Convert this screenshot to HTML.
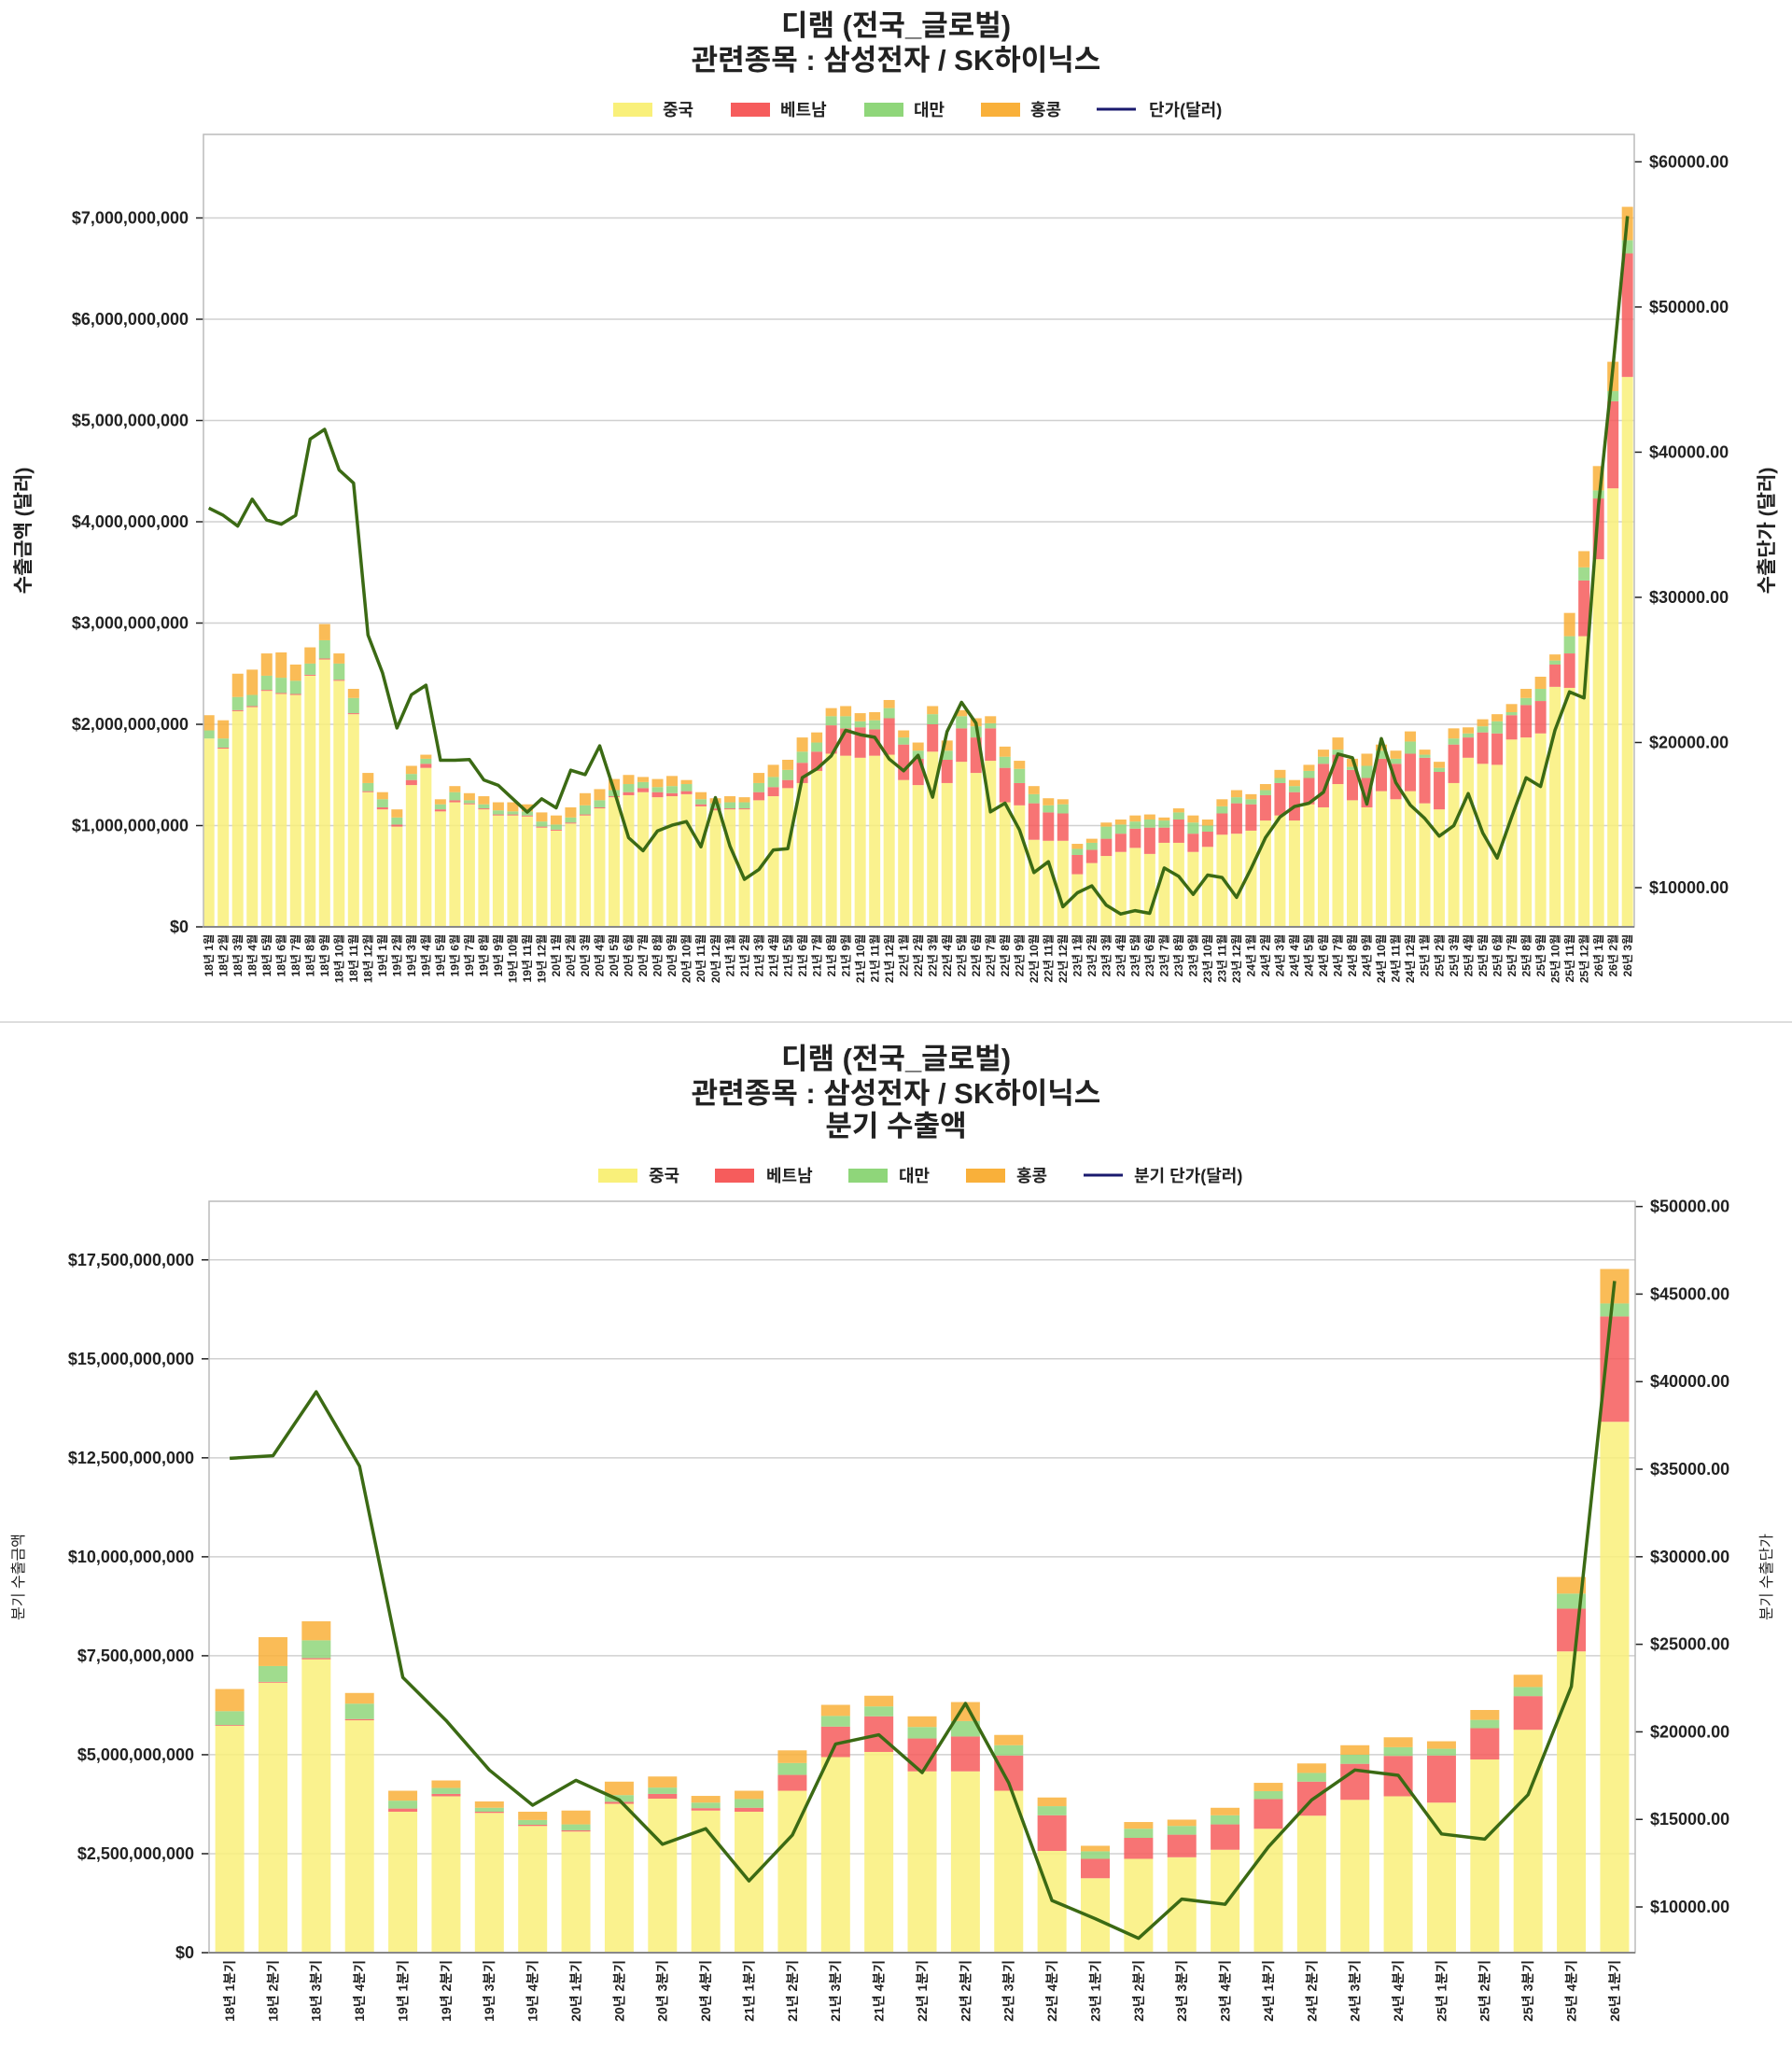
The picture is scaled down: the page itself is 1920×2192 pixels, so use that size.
<!DOCTYPE html>
<html><head><meta charset="utf-8">
<style>
html,body{margin:0;padding:0;background:#fff;}
svg{display:block;font-family:"Liberation Sans","Noto Sans CJK KR",sans-serif;}
</style></head>
<body>
<svg id="root" width="1920" height="2192" viewBox="0 0 1920 2192" xmlns="http://www.w3.org/2000/svg">
<g>
<text x="960" y="38" text-anchor="middle" font-size="31" font-weight="bold" fill="#222">디램 (전국_글로벌)</text>
<text x="960" y="75" text-anchor="middle" font-size="31" font-weight="bold" fill="#222">관련종목 : 삼성전자 / SK하이닉스</text>
</g>
<g font-size="18" font-weight="bold" fill="#222">
<g><rect x="657" y="110" width="42" height="15" fill="#f9f07a"/><text x="710" y="124">중국</text></g>
<g><rect x="783" y="110" width="42" height="15" fill="#f65c5c"/><text x="836" y="124">베트남</text></g>
<g><rect x="926" y="110" width="42" height="15" fill="#8fd67a"/><text x="979" y="124">대만</text></g>
<g><rect x="1051" y="110" width="42" height="15" fill="#f9b03a"/><text x="1104" y="124">홍콩</text></g>
<g><line x1="1175" y1="117" x2="1217" y2="117" stroke="#1a1a6e" stroke-width="3"/><text x="1231" y="124">단가(달러)</text></g>
</g>
<line x1="0" y1="1095" x2="1920" y2="1095" stroke="#ddd" stroke-width="2"/>
<g>
<text x="960" y="1145" text-anchor="middle" font-size="31" font-weight="bold" fill="#222">디램 (전국_글로벌)</text>
<text x="960" y="1182" text-anchor="middle" font-size="31" font-weight="bold" fill="#222">관련종목 : 삼성전자 / SK하이닉스</text>
<text x="960" y="1217" text-anchor="middle" font-size="31" font-weight="bold" fill="#222">분기 수출액</text>
</g>
<g font-size="18" font-weight="bold" fill="#222">
<g><rect x="641" y="1252" width="42" height="15" fill="#f9f07a"/><text x="695" y="1266">중국</text></g>
<g><rect x="766" y="1252" width="42" height="15" fill="#f65c5c"/><text x="821" y="1266">베트남</text></g>
<g><rect x="909" y="1252" width="42" height="15" fill="#8fd67a"/><text x="963" y="1266">대만</text></g>
<g><rect x="1035" y="1252" width="42" height="15" fill="#f9b03a"/><text x="1089" y="1266">홍콩</text></g>
<g><line x1="1161" y1="1259" x2="1203" y2="1259" stroke="#1a1a6e" stroke-width="3"/><text x="1215" y="1266">분기 단가(달러)</text></g>
</g>
<g id="top"></g>
<g id="bot"></g>
</svg>
<script>
// ---- monthly data (billions USD, price USD) ----
const mChina=[1.86,1.76,2.13,2.17,2.33,2.30,2.29,2.48,2.64,2.43,2.10,1.33,1.16,0.99,1.40,1.57,1.14,1.23,1.21,1.16,1.10,1.10,1.09,0.98,0.95,1.02,1.10,1.17,1.28,1.30,1.33,1.28,1.29,1.31,1.19,1.15,1.16,1.16,1.25,1.29,1.37,1.42,1.54,1.71,1.69,1.67,1.69,1.70,1.45,1.40,1.73,1.42,1.63,1.52,1.64,1.23,1.20,0.86,0.85,0.85,0.52,0.63,0.70,0.74,0.78,0.72,0.83,0.83,0.74,0.79,0.91,0.92,0.95,1.05,1.10,1.05,1.21,1.18,1.41,1.25,1.18,1.34,1.26,1.34,1.22,1.16,1.42,1.67,1.61,1.60,1.85,1.87,1.91,2.37,2.36,2.87,3.63,4.33,5.43];
const mVietnam=[0,0.01,0.01,0.01,0.01,0.01,0.01,0.01,0.01,0.01,0.01,0.01,0.02,0.02,0.05,0.04,0.02,0.02,0.01,0.01,0.01,0.01,0.01,0.01,0.01,0.01,0.01,0.01,0.01,0.03,0.04,0.05,0.03,0.03,0.02,0.02,0.01,0.01,0.08,0.09,0.08,0.20,0.19,0.28,0.27,0.30,0.26,0.36,0.35,0.26,0.27,0.23,0.33,0.35,0.32,0.34,0.22,0.36,0.28,0.27,0.19,0.13,0.17,0.18,0.19,0.26,0.15,0.23,0.18,0.15,0.21,0.30,0.26,0.25,0.32,0.28,0.26,0.43,0.29,0.30,0.29,0.32,0.35,0.37,0.45,0.37,0.38,0.20,0.31,0.31,0.24,0.32,0.32,0.22,0.34,0.55,0.60,0.86,1.22];
const mTaiwan=[0.08,0.09,0.13,0.11,0.14,0.15,0.13,0.11,0.18,0.16,0.15,0.08,0.08,0.07,0.06,0.05,0.05,0.08,0.03,0.04,0.04,0.03,0.04,0.05,0.05,0.05,0.09,0.07,0.06,0.08,0.06,0.05,0.07,0.07,0.05,0.05,0.06,0.06,0.09,0.10,0.10,0.11,0.09,0.09,0.12,0.06,0.09,0.10,0.07,0.08,0.10,0.09,0.12,0.11,0.05,0.11,0.14,0.09,0.07,0.09,0.06,0.07,0.12,0.09,0.07,0.08,0.07,0.07,0.11,0.06,0.07,0.06,0.05,0.05,0.05,0.06,0.07,0.07,0.05,0.03,0.12,0.08,0.05,0.12,0.03,0.04,0.06,0.04,0.06,0.12,0.03,0.07,0.12,0.04,0.17,0.13,0.08,0.10,0.13];
const mHongkong=[0.15,0.18,0.23,0.25,0.22,0.25,0.16,0.16,0.16,0.10,0.09,0.10,0.07,0.08,0.08,0.04,0.05,0.06,0.07,0.08,0.08,0.09,0.07,0.09,0.09,0.10,0.12,0.11,0.11,0.09,0.05,0.08,0.10,0.04,0.07,0.05,0.06,0.05,0.10,0.12,0.10,0.14,0.10,0.08,0.10,0.08,0.08,0.08,0.07,0.08,0.08,0.10,0.06,0.08,0.07,0.10,0.08,0.08,0.07,0.05,0.05,0.04,0.04,0.05,0.06,0.05,0.03,0.04,0.07,0.06,0.07,0.07,0.05,0.06,0.08,0.06,0.06,0.07,0.12,0.08,0.12,0.06,0.08,0.10,0.05,0.06,0.10,0.06,0.07,0.07,0.08,0.09,0.12,0.06,0.23,0.16,0.24,0.29,0.33];
const mPrice=[36150,35650,34910,36760,35330,35040,35650,40900,41570,38780,37870,27400,24810,21000,23290,23950,18780,18780,18830,17420,17050,16120,15200,16120,15500,18090,17790,19770,16690,13440,12550,13910,14300,14550,12820,16200,12860,10570,11250,12600,12690,17580,18180,19080,20840,20540,20360,18860,18050,19120,16230,20750,22770,21330,15220,15820,13980,11040,11790,8680,9650,10120,8790,8190,8420,8230,11360,10780,9540,10870,10700,9330,11310,13450,14870,15590,15820,16580,19210,18950,15760,20270,17240,15690,14770,13550,14270,16480,13780,12040,14870,17570,16970,20860,23490,23070,36340,45880,56260];
const mLeftTicks=[0,1,2,3,4,5,6,7];
const mRightTicks=[10000,20000,30000,40000,50000,60000];
const mMonths=[];
for(let i=0;i<mChina.length;i++){mMonths.push((18+Math.floor(i/12))+'년 '+(i%12+1)+'월');}

// ---- quarterly data ----
const qChina=[5.73,6.82,7.41,5.87,3.56,3.95,3.53,3.20,3.06,3.76,3.89,3.59,3.56,4.09,4.94,5.07,4.58,4.58,4.09,2.57,1.88,2.37,2.41,2.60,3.13,3.46,3.86,3.95,3.79,4.88,5.63,7.61,13.41];
const qVietnam=[0.02,0.02,0.03,0.03,0.08,0.06,0.03,0.03,0.03,0.05,0.12,0.06,0.10,0.40,0.77,0.90,0.83,0.88,0.89,0.90,0.49,0.53,0.57,0.64,0.75,0.86,0.91,1.02,1.19,0.79,0.85,1.08,2.66];
const qTaiwan=[0.35,0.40,0.45,0.39,0.20,0.15,0.10,0.12,0.15,0.17,0.16,0.14,0.22,0.30,0.27,0.25,0.29,0.39,0.26,0.23,0.19,0.23,0.22,0.23,0.20,0.22,0.23,0.22,0.17,0.21,0.23,0.38,0.33];
const qHongkong=[0.56,0.73,0.48,0.27,0.25,0.19,0.16,0.21,0.35,0.34,0.28,0.17,0.21,0.32,0.28,0.27,0.27,0.48,0.26,0.22,0.14,0.17,0.16,0.19,0.21,0.24,0.24,0.25,0.19,0.25,0.31,0.42,0.87];
const qPrice=[35620,35770,39420,35180,23110,20650,17820,15810,17230,16110,13580,14470,11490,14100,19310,19830,17670,21620,17080,10370,9330,8210,10450,10150,13430,16110,17820,17520,14170,13870,16410,22590,45750];
const qLeftTicks=[0,2.5,5,7.5,10,12.5,15,17.5];
const qRightTicks=[10000,15000,20000,25000,30000,35000,40000,45000,50000];
const qQuarters=[];
for(let i=0;i<qChina.length;i++){qQuarters.push((18+Math.floor(i/4))+'년 '+(i%4+1)+'분기');}

const NS='http://www.w3.org/2000/svg';
function mk(parent,tag,attrs,txt){const e=document.createElementNS(NS,tag);for(const k in attrs)e.setAttribute(k,attrs[k]);if(txt!==undefined)e.textContent=txt;parent.appendChild(e);return e;}
function money(b){return '$'+Math.round(b*1e9).toLocaleString('en-US');}
const COLORS=['#f9f07a','#f65c5c','#8fd67a','#f9b03a'];
const SNAMES=['china','vietnam','taiwan','hongkong'];

function drawChart(g,cfg){
  const {L,R,T,B,lmax,rmin,rmax,x0,step,bw,series,price,cats,lt,rt,fmtL,lTitle,rTitle,titleSize,titleBold,xfs,prefix}=cfg;
  const yL=v=>B-(v/lmax)*(B-T);
  const yR=v=>B-((v-rmin)/(rmax-rmin))*(B-T);
  const xC=i=>x0+i*step;
  // gridlines & left ticks
  lt.forEach(v=>{
    const y=yL(v);
    const gl=mk(g,'line',{x1:L,x2:R,y1:y,y2:y,stroke:'#d0d0d0','stroke-width':1.5});
    
    
    mk(g,'line',{x1:L-8,x2:L,y1:y,y2:y,stroke:'#222','stroke-width':1.5});
    const t=mk(g,'text',{x:L-16,y:y+6,'text-anchor':'end','font-size':18,'font-weight':'bold',fill:'#222'},fmtL(v));
    
    
  });
  rt.forEach(v=>{
    const y=yR(v);
    mk(g,'line',{x1:R,x2:R+8,y1:y,y2:y,stroke:'#222','stroke-width':1.5});
    const t=mk(g,'text',{x:R+16,y:y+6,'font-size':18,'font-weight':'bold',fill:'#222'},'$'+v.toFixed(2));
    
    
  });
  // bars
  for(let i=0;i<cats.length;i++){
    let acc=0;
    for(let s=0;s<4;s++){
      const v=series[s][i];
      const y1=yL(acc+v),y0=yL(acc);
      const r=mk(g,'rect',{x:xC(i)-bw/2,y:y1,width:bw,height:Math.max(0,y0-y1),fill:COLORS[s],'fill-opacity':0.85});
      
      
      acc+=v;
    }
    const lab=mk(g,'text',{transform:'translate('+(xC(i)+xfs*0.35)+','+(B+8)+') rotate(-90)','text-anchor':'end','font-size':xfs,'font-weight':'bold',fill:'#222'},cats[i]);
    
    
  }
  // frame
  const fr=mk(g,'rect',{x:L,y:T,width:R-L,height:B-T,fill:'none',stroke:'#bbb','stroke-width':1.5});
  
  
  mk(g,'line',{x1:L,x2:R,y1:B,y2:B,stroke:'#888','stroke-width':2});
  // price line
  const pts=price.map((p,i)=>xC(i).toFixed(1)+','+yR(p).toFixed(1)).join(' ');
  const pl=mk(g,'polyline',{points:pts,fill:'none',stroke:'#3b6a14','stroke-width':3.5,'stroke-linejoin':'round'});
  
  
  // axis titles
  const lt2=mk(g,'text',{transform:'translate('+cfg.ltx+','+((T+B)/2)+') rotate(-90)','text-anchor':'middle','font-size':titleSize,'font-weight':titleBold,fill:'#222'},lTitle);
  
  
  const rt2=mk(g,'text',{transform:'translate('+cfg.rtx+','+((T+B)/2)+') rotate(-90)','text-anchor':'middle','font-size':titleSize,'font-weight':titleBold,fill:'#222'},rTitle);
  
  
}

drawChart(document.getElementById('top'),{
  L:218,R:1751,T:144,B:993,lmax:7.825,rmin:7300,rmax:61890,
  x0:223.7,step:15.51,bw:12,series:[mChina,mVietnam,mTaiwan,mHongkong],price:mPrice,cats:mMonths,
  lt:mLeftTicks,rt:mRightTicks,fmtL:money,lTitle:'수출금액 (달러)',rTitle:'수출단가 (달러)',
  titleSize:21,titleBold:'bold',ltx:32,rtx:1900,xfs:12,prefix:'month-'
});
drawChart(document.getElementById('bot'),{
  L:224,R:1752,T:1287,B:2092,lmax:18.98,rmin:7390,rmax:50300,
  x0:246.1,step:46.37,bw:31,series:[qChina,qVietnam,qTaiwan,qHongkong],price:qPrice,cats:qQuarters,
  lt:qLeftTicks,rt:qRightTicks,fmtL:money,lTitle:'분기 수출금액',rTitle:'분기 수출단가',
  titleSize:16,titleBold:'normal',ltx:25,rtx:1898,xfs:14,prefix:'quarter-'
});
</script>
</body></html>
